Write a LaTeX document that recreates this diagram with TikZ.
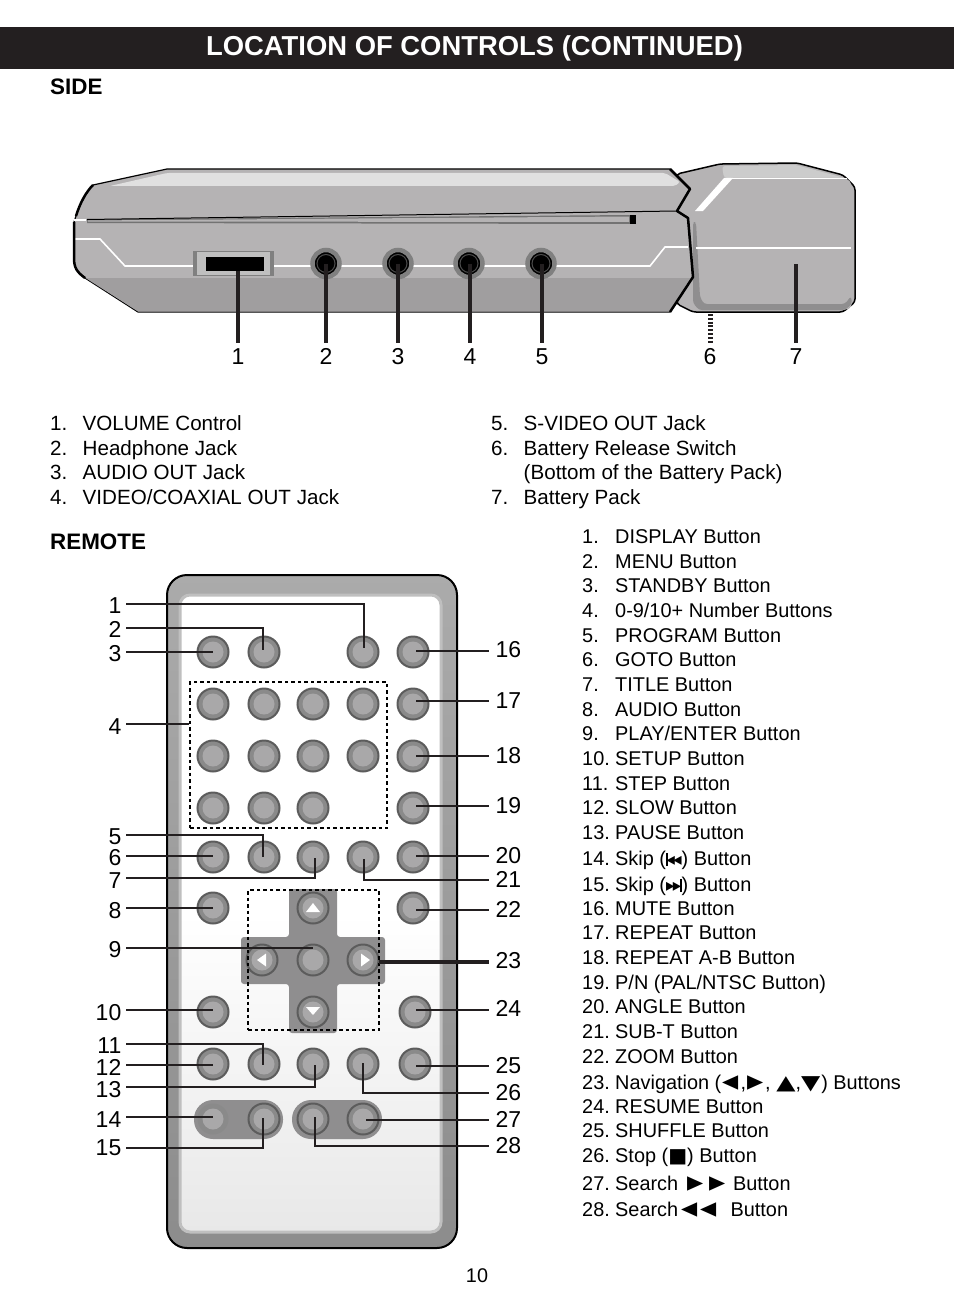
\documentclass[tikz,border=0pt]{standalone}
\usepackage{fontspec}
\setmainfont{Liberation Sans}
\newfontfamily\symfont{DejaVu Sans}
\definecolor{barblack}{HTML}{231F20}
\definecolor{casegray}{HTML}{B5B3B4}
\definecolor{caselow}{HTML}{A09E9F}
\definecolor{padgray}{HTML}{8F8E8F}
\definecolor{btnring}{HTML}{8A8A8A}
\definecolor{btncore}{HTML}{A9A8A9}
\definecolor{btnedge}{HTML}{5C5C5C}
\newcommand{\itemno}[1]{\makebox[32.5pt][l]{#1}}
\newcommand{\remno}[1]{\makebox[33pt][l]{#1}}
\newcommand{\sym}[1]{{\symfont\fontsize{20}{24}\selectfont #1}}
\newcommand{\widetri}[1]{\scalebox{1.25}[1]{\symfont\fontsize{20}{24}\selectfont #1}}
\newcommand{\sidetri}[1]{\raisebox{-1.8pt}{\scalebox{1.05}[1.45]{\symfont\fontsize{20}{24}\selectfont #1}}}
\newcommand{\narrowtri}[1]{\scalebox{.6}[1]{\symfont\fontsize{18}{18}\selectfont #1}}
\newcommand{\skipback}{{\rule[-1pt]{1.5pt}{13pt}\kern-1pt\narrowtri{◄}\kern-1.5pt\narrowtri{◄}}}
\newcommand{\skipfwd}{{\narrowtri{►}\kern-1.5pt\narrowtri{►}\kern-1pt\rule[-1pt]{1.5pt}{13pt}}}
\begin{document}
\begin{tikzpicture}[x=1pt,y=-1pt,
  btn/.style={circle,draw=btnedge,line width=2pt,fill=btnring,minimum size=31pt,inner sep=0pt,
    path picture={\fill[btncore] (path picture bounding box.center) circle (10.5pt);}},
  padbtn/.style={btn,draw=none,fill=btnring},
  jack/.style={circle,draw=gray,line width=4.5pt,fill=black,minimum size=27pt,inner sep=0pt,
    path picture={\draw[black!70,line width=1pt] (path picture bounding box.center) circle (9pt);}},
  dashbox/.style={draw=black,line width=1.8pt,dash pattern=on 3.5pt off 3pt,inner sep=0pt},
  numl/.style={font=\fontsize{23}{27}\selectfont,anchor=east,inner xsep=4.5pt,inner ysep=0pt,text height=16.5pt,text depth=0pt},
  numr/.style={font=\fontsize{23}{27}\selectfont,anchor=west,inner xsep=6.5pt,inner ysep=0pt,text height=16.5pt,text depth=0pt},
  nums/.style={font=\fontsize{23}{27}\selectfont,inner xsep=0pt,inner ysep=5pt,text height=16.5pt,text depth=0pt},
  item/.style={font=\fontsize{20.6}{24}\selectfont,anchor=base west,inner sep=0pt},
  remitem/.style={font=\fontsize{19.9}{24}\selectfont,anchor=base west,inner sep=0pt},
  head/.style={font=\fontsize{22.4}{26}\selectfont\bfseries,anchor=base west,inner sep=0pt},
  lead/.style={draw=barblack,line width=2.8pt},
  leadthin/.style={draw=barblack,line width=2.1pt},
  sidelead/.style={draw=barblack,line width=3.6pt}]
\useasboundingbox (0,0) rectangle (954,1316);
\node[fill=barblack,minimum width=954pt,minimum height=42pt,inner sep=0pt] at (477,48) (bar) {};
\node[font=\fontsize{27.4}{32}\selectfont\bfseries,text=white,inner sep=0pt] at (474.5,48) (title) {LOCATION OF CONTROLS (CONTINUED)};
\node[head] at (50,95) (sidehead) {SIDE};
\node[head] at (50,549) (remotehead) {REMOTE};
\node[font=\fontsize{19.8}{24}\selectfont,inner sep=0pt] at (477,1276) (page) {10};
\filldraw[fill=casegray,draw=black,line width=1.5pt,rounded corners=3pt] (677,174) -- (720,164) -- (797,163) -- (843,175) -- (855,187) -- (855,302) -- (843,312) -- (693,312) -- (677,304) -- cycle;
\fill[black!20,rounded corners=3pt] (722,166) -- (796,165) -- (845,178) -- (724,178) -- cycle;
\fill[casegray,rounded corners=4pt] (727,178) -- (847,178) -- (852,184) -- (852,307) -- (846,310) -- (698,310) -- (693,303) -- (693,217) -- cycle;
\fill[padgray,rounded corners=3pt] (700,297) -- (704,304) -- (845,304) -- (851,296) -- (852,304) -- (845,310) -- (699,310) -- (693,303) -- (693,222) -- (696,222) -- cycle;
\draw[white,line width=1.5pt] (696,248) -- (851,248);
\draw[white,line width=1.5pt] (727,178.5) -- (847,178.5);
\fill[white] (695,211) -- (724,178) -- (733,178) -- (703,211) -- cycle;
\filldraw[fill=casegray,draw=black,line width=1.2pt] (93,185) -- (167,169) -- (670,169) -- (690,189) -- (677,211) -- (688,218) -- (693,277) -- (670,312) -- (138,312) -- (85,278) .. controls (77,272) and (74,268) .. (74,258) -- (74,222) -- (76,216) .. controls (80,203) and (86,192) .. (93,185) -- cycle;
\fill[black!12,rounded corners=2pt] (110,186) -- (167,173) -- (665,173) -- (680,182) -- (675,186) -- cycle;
\fill[caselow] (85.5,278) -- (692.5,278) -- (670,311.5) -- (138,311.5) -- cycle;
\fill[black!55] (87,219.5) -- (630,215) -- (636,224) -- (87,223) -- cycle;
\fill[casegray] (88,220.5) -- (629,216.5) -- (629,222) -- (88,221.5) -- cycle;
\fill[black] (630,215) -- (636,215) -- (636,224) -- (630,224) -- cycle;
\draw[black,line width=1pt] (87,219.5) -- (677,211);
\draw[white,line width=1.5pt] (74,220) -- (86,220);
\draw[white,line width=1.6pt] (75,239) -- (100,239) -- (125,266) -- (650,266) -- (665,247) -- (688,247);
\draw[black,line width=2.5pt,line join=round] (670,169) -- (690,189) -- (677,211) -- (688,218) -- (693,277) -- (670,312);
\draw[black,line width=2.5pt] (76,216) .. controls (80,203) and (86,192) .. (93,185);
\draw[black,line width=2.5pt] (74,222) -- (74,258) .. controls (74,268) and (77,272) .. (85,278);
\node[fill=lightgray,draw=gray,line width=1.5pt,minimum width=79pt,minimum height=24pt,inner sep=0pt] at (233.5,263.5) (volframe) {};
\fill[gray] (193,251) rectangle (197,276);
\fill[gray] (270,251) rectangle (274,276);
\node[fill=black,minimum width=58pt,minimum height=14pt,inner sep=0pt] at (235,264) (vol) {};
\node[jack] at (326,263.5) (jack2) {};
\node[jack] at (398,263.5) (jack3) {};
\node[jack] at (469,263.5) (jack4) {};
\node[jack] at (541,263.5) (jack5) {};
\coordinate (e6) at (710,314);
\coordinate (e7) at (796,264);
\node[nums] at (238,356) (s1) {1};
\node[nums] at (326,356) (s2) {2};
\node[nums] at (398,356) (s3) {3};
\node[nums] at (470,356) (s4) {4};
\node[nums] at (542,356) (s5) {5};
\node[nums] at (710,356) (s6) {6};
\node[nums] at (796,356) (s7) {7};
\draw[sidelead] (s1 |- vol.south) -- (s1.north);
\draw[sidelead] (jack2.center) -- (s2.north);
\draw[sidelead] (jack3.center) -- (s3.north);
\draw[sidelead] (jack4.center -| s4) -- (s4.north);
\draw[sidelead] (jack5.center -| s5) -- (s5.north);
\draw[line width=5pt,draw=barblack,dash pattern=on 2pt off 1.8pt] (e6) -- (s6.north);
\draw[sidelead] (e7) -- (s7.north);
\node[item] at (50,430) (v1) {\itemno{1.}VOLUME Control};
\node[item] at (50,455) (v2) {\itemno{2.}Headphone Jack};
\node[item] at (50,479) (v3) {\itemno{3.}AUDIO OUT Jack};
\node[item] at (50,504) (v4) {\itemno{4.}VIDEO/COAXIAL OUT Jack};
\node[item] at (491,430) (v5) {\itemno{5.}S-VIDEO OUT Jack};
\node[item] at (491,455) (v6) {\itemno{6.}Battery Release Switch};
\node[item] at (491,479) (v6b) {\itemno{}(Bottom of the Battery Pack)};
\node[item] at (491,504) (v7) {\itemno{7.}Battery Pack};
\node[remitem] at (582,543) (d1) {\remno{1.}DISPLAY Button};
\node[remitem] at (582,568) (d2) {\remno{2.}MENU Button};
\node[remitem] at (582,592) (d3) {\remno{3.}STANDBY Button};
\node[remitem] at (582,617) (d4) {\remno{4.}0-9/10+ Number Buttons};
\node[remitem] at (582,642) (d5) {\remno{5.}PROGRAM Button};
\node[remitem] at (582,666) (d6) {\remno{6.}GOTO Button};
\node[remitem] at (582,691) (d7) {\remno{7.}TITLE Button};
\node[remitem] at (582,716) (d8) {\remno{8.}AUDIO Button};
\node[remitem] at (582,740) (d9) {\remno{9.}PLAY/ENTER Button};
\node[remitem] at (582,765) (d10) {\remno{10.}SETUP Button};
\node[remitem] at (582,790) (d11) {\remno{11.}STEP Button};
\node[remitem] at (582,814) (d12) {\remno{12.}SLOW Button};
\node[remitem] at (582,839) (d13) {\remno{13.}PAUSE Button};
\node[remitem] at (582,865) (d14) {\remno{14.}Skip (\skipback) Button};
\node[remitem] at (582,891) (d15) {\remno{15.}Skip (\skipfwd) Button};
\node[remitem] at (582,915) (d16) {\remno{16.}MUTE Button};
\node[remitem] at (582,939) (d17) {\remno{17.}REPEAT Button};
\node[remitem] at (582,964) (d18) {\remno{18.}REPEAT A-B Button};
\node[remitem] at (582,989) (d19) {\remno{19.}P/N (PAL/NTSC Button)};
\node[remitem] at (582,1013) (d20) {\remno{20.}ANGLE Button};
\node[remitem] at (582,1038) (d21) {\remno{21.}SUB-T Button};
\node[remitem] at (582,1063) (d22) {\remno{22.}ZOOM Button};
\node[remitem] at (582,1089) (d23) {\remno{23.}Navigation (\kern1.5pt\sidetri{◄}\kern1.5pt,\kern1.5pt\sidetri{►}\kern1.5pt, \widetri{▲},\widetri{▼}\kern1pt) Buttons};
\node[remitem] at (582,1113) (d24) {\remno{24.}RESUME Button};
\node[remitem] at (582,1137) (d25) {\remno{25.}SHUFFLE Button};
\node[remitem] at (582,1162) (d26) {\remno{26.}Stop (\sym{■}) Button};
\node[remitem] at (582,1190) (d27) {\remno{27.}Search \kern4pt\sidetri{►}\kern5.5pt\sidetri{►}\kern7.5pt Button};
\node[remitem] at (582,1216) (d28) {\remno{28.}Search\kern3.5pt\sidetri{◄}\kern3pt\sidetri{◄}\kern13.5pt Button};
\draw[draw=black,line width=2pt,top color=black!33,bottom color=black!45,rounded corners=20pt] (167,575) rectangle (457,1248);
\draw[draw=black!25,line width=3pt,top color=white,bottom color=black!9,middle color=white,rounded corners=10pt] (180,595) rectangle (441,1232);
\fill[padgray,rounded corners=3pt] (289,889) -- (337,889) -- (337,937) -- (385,937) -- (385,984) -- (337,984) -- (337,1033) -- (289,1033) -- (289,984) -- (241,984) -- (241,937) -- (289,937) -- cycle;
\fill[padgray,rounded corners=19pt] (194,1100) rectangle (283,1139);
\fill[padgray,rounded corners=19pt] (292,1100) rectangle (382,1139);
\node[btn] at (213,652) (b3) {};
\node[btn] at (264,652) (b2) {};
\node[btn] at (363,652) (b1) {};
\node[btn] at (413,652) (b16) {};
\node[btn] at (213,704) (n1) {};
\node[btn] at (264,704) (n2) {};
\node[btn] at (313,704) (n3) {};
\node[btn] at (363,704) (n4) {};
\node[btn] at (413,704) (b17) {};
\node[btn] at (213,756) (n5) {};
\node[btn] at (264,756) (n6) {};
\node[btn] at (313,756) (n7) {};
\node[btn] at (363,756) (n8) {};
\node[btn] at (413,756) (b18) {};
\node[btn] at (213,808) (n9) {};
\node[btn] at (264,808) (n10) {};
\node[btn] at (313,808) (n11) {};
\node[btn] at (413,808) (b19) {};
\node[btn] at (213,857) (b6) {};
\node[btn] at (264,857) (b5) {};
\node[btn] at (313,857) (b7) {};
\node[btn] at (363,857) (b21) {};
\node[btn] at (413,857) (b20) {};
\node[btn] at (213,908) (b8) {};
\node[btn] at (413,908) (b22) {};
\node[btn] at (313,908) (nup) {};
\node[btn] at (262,960) (nleft) {};
\node[btn] at (313,960) (b9) {};
\node[btn] at (363,960) (nright) {};
\node[btn] at (313,1012) (ndown) {};
\node[btn] at (213,1012) (b10) {};
\node[btn] at (415,1012) (b24) {};
\node[btn] at (213,1064) (b12) {};
\node[btn] at (264,1064) (b11) {};
\node[btn] at (313,1064) (b13) {};
\node[btn] at (363,1064) (b26) {};
\node[btn] at (415,1064) (b25) {};
\node[padbtn] at (213,1119) (b14) {};
\node[btn] at (264,1119) (b15) {};
\node[btn] at (313,1119) (b28) {};
\node[btn] at (363,1119) (b27) {};
\fill[white] (313,903) -- (320,912) -- (306,912) -- cycle;
\fill[white] (313,1015) -- (320,1007) -- (306,1007) -- cycle;
\fill[white] (257,960) -- (266,953.5) -- (266,966.5) -- cycle;
\fill[white] (370,960) -- (361,953.5) -- (361,966.5) -- cycle;
\node[dashbox,minimum width=197pt,minimum height=146pt] at (288.5,755) (numbox) {};
\node[dashbox,minimum width=131pt,minimum height=140pt] at (313.5,960) (navbox) {};
\node[numl] at (126,605) (l1) {1};
\node[numl] at (126,629) (l2) {2};
\node[numl] at (126,653) (l3) {3};
\node[numl] at (126,726) (l4) {4};
\node[numl] at (126,836) (l5) {5};
\node[numl] at (126,857) (l6) {6};
\node[numl] at (126,880) (l7) {7};
\node[numl] at (126,910) (l8) {8};
\node[numl] at (126,949) (l9) {9};
\node[numl] at (126,1012) (l10) {10};
\node[numl] at (126,1045) (l11) {11};
\node[numl] at (126,1067) (l12) {12};
\node[numl] at (126,1089) (l13) {13};
\node[numl] at (126,1119) (l14) {14};
\node[numl] at (126,1147) (l15) {15};
\node[numr] at (489,649) (r16) {16};
\node[numr] at (489,700) (r17) {17};
\node[numr] at (489,755) (r18) {18};
\node[numr] at (489,805) (r19) {19};
\node[numr] at (489,855) (r20) {20};
\node[numr] at (489,879) (r21) {21};
\node[numr] at (489,909) (r22) {22};
\node[numr] at (489,960) (r23) {23};
\node[numr] at (489,1008) (r24) {24};
\node[numr] at (489,1065) (r25) {25};
\node[numr] at (489,1092) (r26) {26};
\node[numr] at (489,1119) (r27) {27};
\node[numr] at (489,1145) (r28) {28};
\coordinate (e1) at (364,648);
\coordinate (e2) at (263,650);
\coordinate (e3) at (213,652);
\coordinate (e4) at (190,724);
\coordinate (e5) at (263,857);
\coordinate (e6b) at (213,856);
\coordinate (e7b) at (315,858);
\coordinate (e8) at (213,908);
\coordinate (e9) at (313,948);
\coordinate (e10) at (213,1010);
\coordinate (e11) at (263,1065);
\coordinate (e12) at (213,1065);
\coordinate (e13) at (315,1065);
\coordinate (e14) at (213,1117);
\coordinate (e15) at (263,1118);
\coordinate (s15) at (126,1148);
\coordinate (f16) at (416,651);
\coordinate (f17) at (416,701);
\coordinate (f18) at (416,756);
\coordinate (f19) at (416,806);
\coordinate (f20) at (416,856);
\coordinate (f21) at (364,859);
\coordinate (f22) at (416,910);
\coordinate (f23) at (379,962);
\coordinate (f24) at (416,1010);
\coordinate (f25) at (416,1066);
\coordinate (f26) at (363,1063);
\coordinate (f27) at (366,1120);
\coordinate (f28) at (315,1117);
\draw[lead] (l1.east |- 0,604) -| (e1);
\draw[lead] (l2.east |- 0,628) -| (e2);
\draw[lead] (e3 -| l3.east) -- (e3);
\draw[lead] (e4 -| l4.east) -- (e4 -| numbox.west);
\draw[leadthin] (l5.east |- 0,835) -| (e5);
\draw[lead] (e6b -| l6.east) -- (e6b);
\draw[lead] (l7.east |- 0,878) -| (e7b);
\draw[lead] (e8 -| l8.east) -- (e8);
\draw[lead] (e9 -| l9.east) -- (e9);
\draw[lead] (e10 -| l10.east) -- (e10);
\draw[leadthin] (l11.east |- 0,1044) -| (e11);
\draw[lead] (e12 -| l12.east) -- (e12);
\draw[lead] (l13.east |- 0,1087) -| (e13);
\draw[lead] (e14 -| l14.east) -- (e14);
\draw[lead] (s15) -| (e15);
\draw[lead] (f16) -- (f16 -| r16.west);
\draw[lead] (f17) -- (f17 -| r17.west);
\draw[lead] (f18) -- (f18 -| r18.west);
\draw[lead] (f19) -- (f19 -| r19.west);
\draw[lead] (f20) -- (f20 -| r20.west);
\draw[lead] (f21) |- (r21.west |- 0,880);
\draw[lead] (f22) -- (f22 -| r22.west);
\draw[sidelead] (f23) -- (f23 -| r23.west);
\draw[lead] (f24) -- (f24 -| r24.west);
\draw[lead] (f25) -- (f25 -| r25.west);
\draw[lead] (f26) |- (r26.west |- 0,1093);
\draw[lead] (f27) -- (f27 -| r27.west);
\draw[lead] (f28) |- (r28.west |- 0,1146);
\end{tikzpicture}
\end{document}
